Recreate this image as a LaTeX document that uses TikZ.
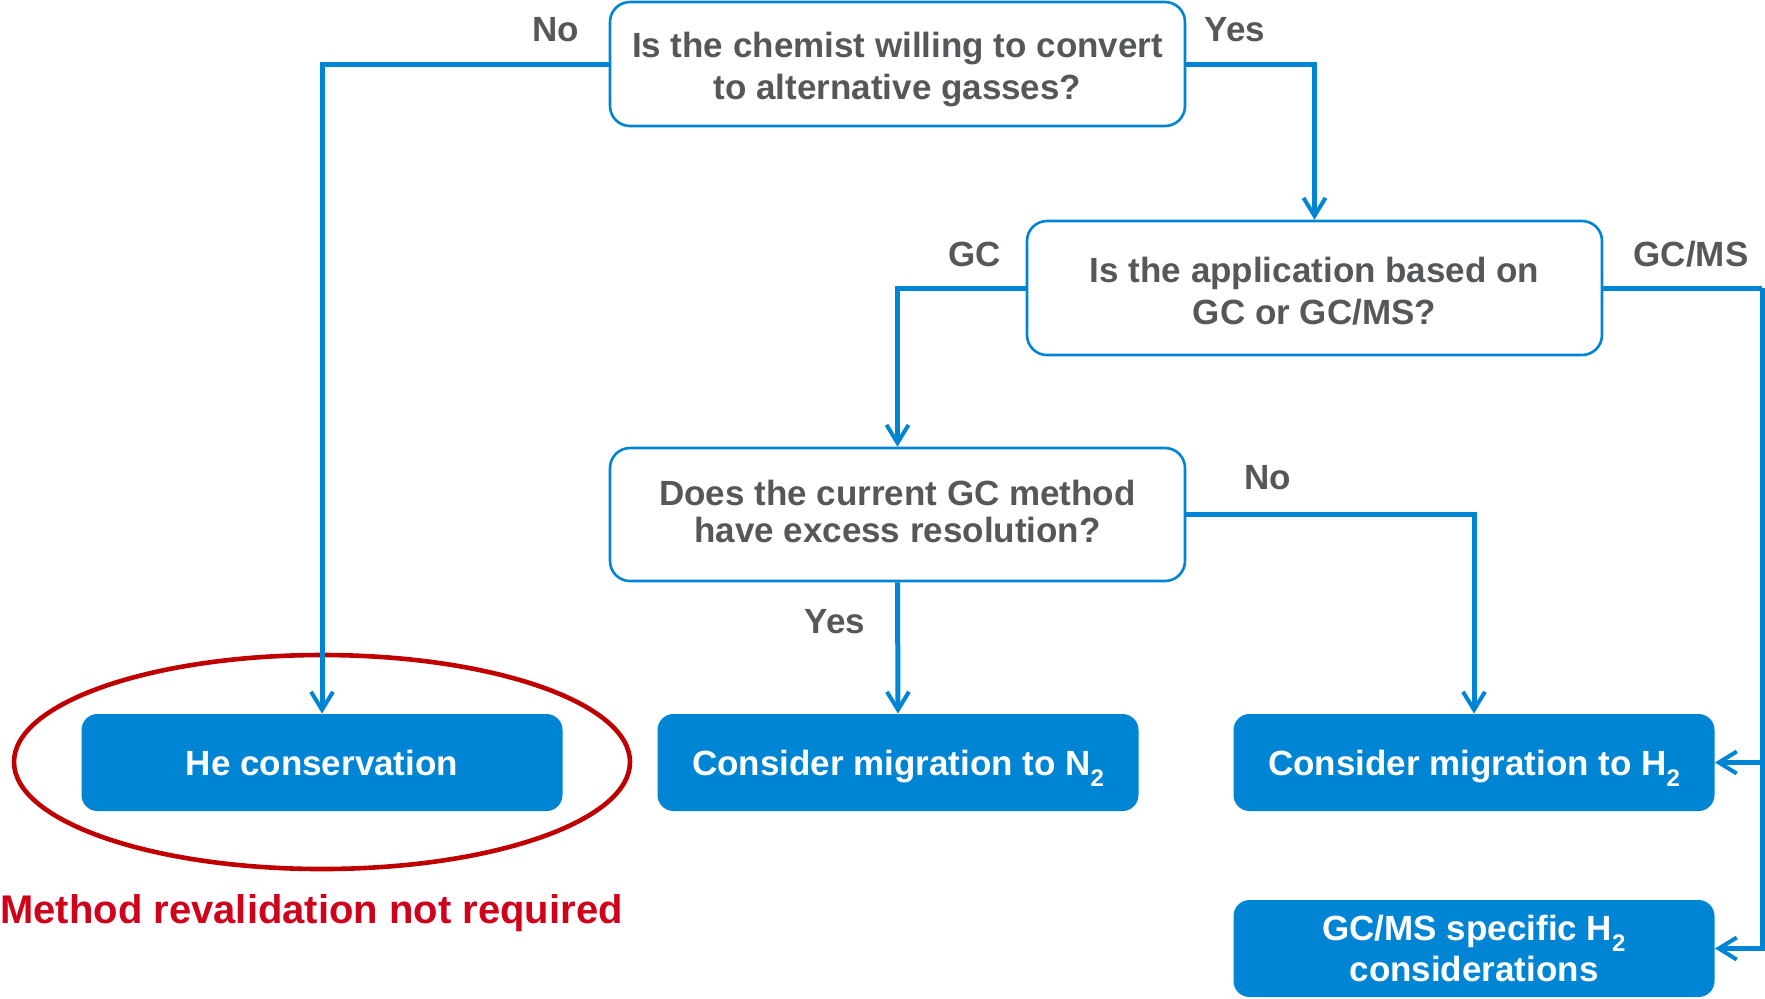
\documentclass[tikz,border=0pt]{standalone}
\usepackage{fontspec}
\setmainfont{Liberation Sans}
\usetikzlibrary{arrows.meta}
\definecolor{flowblue}{RGB}{0,133,213}
\definecolor{txtgray}{RGB}{84,88,90}
\definecolor{notered}{RGB}{208,2,27}
\definecolor{ringred}{RGB}{192,0,0}
\newcommand\subtwo{\smash{\raisebox{-0.32em}{\fontsize{12}{12}\selectfont 2}}}
\tikzset{
  question/.style={draw=flowblue, line width=1.3pt, rounded corners=10pt, fill=white,
    minimum width=287.5pt},
  qtext/.style={align=center, text=txtgray, font=\fontsize{17.5}{21}\selectfont\bfseries},
  result/.style={fill=flowblue, rounded corners=8pt, minimum width=240.5pt,
    minimum height=48.5pt, align=center, text=white,
    font=\fontsize{17.5}{20.5}\selectfont\bfseries},
  oneline/.style={text depth=0pt},
  lbl/.style={text=txtgray, font=\fontsize{17.5}{21}\selectfont\bfseries},
  conn/.style={draw=flowblue, line width=2.5pt},
  arr/.style={conn, -{Straight Barb[length=9pt, width=11pt, line width=2pt]}},
}
\begin{document}
\begin{tikzpicture}[x=0.5pt, y=-0.5pt]
\useasboundingbox (0,0) rectangle (1765,998);
% ellipse highlight
\draw[ringred, line width=2.3pt] (322,762) ellipse [x radius=308, y radius=107];
% decision nodes
\node[question, minimum height=62pt,
  label={[qtext, yshift=-2.8pt]center:{Is the chemist willing to convert\\to alternative gasses?}}]
  (q1) at (897.5,64) {};
\node[question, minimum height=67pt,
  label={[qtext, yshift=-1.6pt]center:{Is the application based on\\GC or GC/MS?}}]
  (q2) at (1314.5,288) {};
\node[question, minimum height=66.5pt,
  label={[qtext, font=\fontsize{17.5}{18.5}\selectfont\bfseries, yshift=1.6pt]center:{Does the current GC method\\have excess resolution?}}]
  (q3) at (897.5,514.5) {};
% result nodes
\node[result, oneline] (he) at (322,762.5) {He conservation};
\node[result, oneline] (n2) at (898,762.5) {Consider migration to N\subtwo};
\node[result, oneline] (h2) at (1474,762.5) {Consider migration to H\subtwo};
\node[result] (gcms) at (1474,948.5) {GC/MS specific H\subtwo\\considerations};
% connectors
\draw[arr] (q1.west) -| (he.north);
\draw[arr] (q1.east) -| (q2.north);
\draw[arr] (q2.west) -| (q3.north);
\draw[arr] (q3.east) -| (h2.north);
\draw[arr] (q3.south) -- (n2.north);
\coordinate (rt) at (1762,288);
\coordinate (rtm) at (1762,762.5);
\draw[conn] (q2.east) -- (rt);
\draw[arr] (rt) |- (gcms.east);
\draw[arr] (rtm) -- (h2.east);
% labels
\node[lbl] (lno1) at (556,30) {No};
\node[lbl] (lyes1) at (1235,30) {Yes};
\node[lbl] (lgc) at (975,254) {GC};
\node[lbl] (lgcms) at (1691,254) {GC/MS};
\node[lbl] (lno2) at (1268,478) {No};
\node[lbl] (lyes2) at (835,622) {Yes};
\node[anchor=west, inner sep=0pt, text=notered, font=\fontsize{20}{24}\selectfont\bfseries] (note) at (0,913) {Method revalidation not required};
\end{tikzpicture}
\end{document}
